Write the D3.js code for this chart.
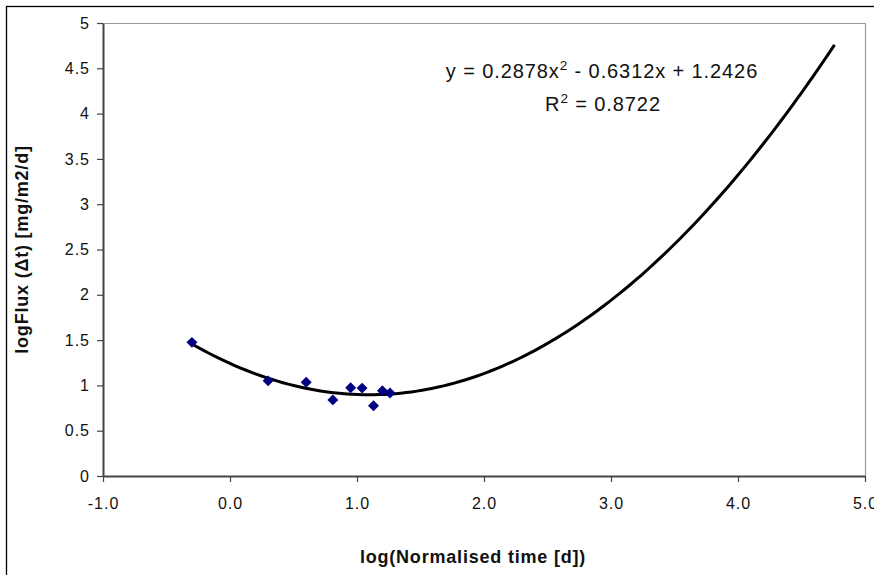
<!DOCTYPE html>
<html>
<head>
<meta charset="utf-8">
<script src="https://cdn.jsdelivr.net/npm/d3@7"></script>
<style>
  html, body { margin: 0; padding: 0; background: #fff; }
  svg { display: block; font-family: "Liberation Sans", Arial, sans-serif; }
</style>
</head>
<body>
<svg id="chart" width="874" height="575"></svg>
<script>
// ---- data ----
const pointX = [-0.30, 0.30, 0.60, 0.81, 0.95, 1.04, 1.13, 1.20, 1.26];
const pointY = [1.475, 1.05, 1.035, 0.84, 0.975, 0.97, 0.775, 0.94, 0.915];
// trendline coefficients as printed on the chart: y = a x^2 + b x + c
const trendCoef = [0.2878, -0.6312, 1.2426];
const trendRange = [-0.30, 4.76];
const xTicks = [-1, 0, 1, 2, 3, 4, 5];
const yTicks = [0, 0.5, 1, 1.5, 2, 2.5, 3, 3.5, 4, 4.5, 5];
const xTitle = "log(Normalised time [d])";
const yTitle = "logFlux (\u0394t) [mg/m2/d]";
const eqLine1 = ["y = 0.2878x", "2", " - 0.6312x + 1.2426"];
const eqLine2 = ["R", "2", " = 0.8722"];

// ---- layout ----
const svg = d3.select("#chart");
const L = 103, R = 865, T = 23, B = 476;
const x = d3.scaleLinear().domain([-1, 5]).range([L, R]);
const y = d3.scaleLinear().domain([0, 5]).range([B, T]);

// outer chart frame
svg.append("rect").attr("x", 6.5).attr("y", 6.5).attr("width", 1000).attr("height", 1000)
  .attr("fill", "none").attr("stroke", "#000").attr("stroke-width", 1.3);

// plot area border (top/right gray)
svg.append("path")
  .attr("d", `M${L},${T + 0.5}H${R + 0.5}V${B}`)
  .attr("fill", "none").attr("stroke", "#999").attr("stroke-width", 1.2);

// axes
const xAxis = d3.axisBottom(x).tickValues(xTicks).tickSize(6).tickSizeOuter(0)
  .tickFormat(d => d.toFixed(1).replace("\u2212", "-"));
const gx = svg.append("g").attr("transform", `translate(0,${B})`).call(xAxis);
gx.select(".domain").attr("stroke", "#444").attr("stroke-width", 2);
gx.selectAll(".tick line").attr("stroke", "#444").attr("stroke-width", 1.2);
gx.selectAll(".tick text").attr("font-size", 16).attr("fill", "#111")
  .attr("letter-spacing", 1)
  .attr("font-family", "Liberation Sans, Arial, sans-serif").attr("dy", "1.5em");

const yAxis = d3.axisLeft(y).tickValues(yTicks).tickSize(6).tickSizeOuter(0)
  .tickFormat(d => String(d));
const gy = svg.append("g").attr("transform", `translate(${L},0)`).call(yAxis);
gy.select(".domain").attr("stroke", "#444").attr("stroke-width", 2);
gy.selectAll(".tick line").attr("stroke", "#444").attr("stroke-width", 1.2);
gy.selectAll(".tick text").attr("font-size", 16).attr("fill", "#111")
  .attr("letter-spacing", 1)
  .attr("font-family", "Liberation Sans, Arial, sans-serif").attr("x", -13);

// trend line
const nSamp = 120;
const trendX = d3.range(nSamp + 1).map(i => trendRange[0] + (trendRange[1] - trendRange[0]) * i / nSamp);
const trendPts = trendX.map(v => [v, trendCoef[0] * v * v + trendCoef[1] * v + trendCoef[2]]);
svg.append("path")
  .datum(trendPts)
  .attr("d", d3.line().x(d => x(d[0])).y(d => y(d[1])))
  .attr("fill", "none").attr("stroke", "#000").attr("stroke-width", 3);

// points (diamonds)
const pts = pointX.map((v, i) => [v, pointY[i]]);
svg.append("g").selectAll("path").data(pts).join("path")
  .attr("d", d3.symbol(d3.symbolSquare, 60)())
  .attr("transform", d => `translate(${x(d[0])},${y(d[1])}) rotate(45)`)
  .attr("fill", "#000080");

// equation text
function eq(parts, cx, base) {
  const t = svg.append("text").attr("x", cx).attr("y", base)
    .attr("text-anchor", "middle").attr("font-size", 20).attr("fill", "#111")
    .attr("letter-spacing", 0.9);
  t.append("tspan").text(parts[0]);
  t.append("tspan").attr("dy", -8).attr("font-size", 13.5).text(parts[1]);
  t.append("tspan").attr("dy", 8).text(parts[2]);
}
eq(eqLine1, 602, 78);
eq(eqLine2, 603, 111);

// axis titles
svg.append("text").attr("x", 473).attr("y", 563).attr("text-anchor", "middle")
  .attr("font-size", 18).attr("font-weight", "bold").attr("fill", "#111")
  .attr("letter-spacing", 0.8).text(xTitle);
svg.append("text").attr("transform", `translate(28,${(T + B) / 2}) rotate(-90)`)
  .attr("text-anchor", "middle").attr("font-size", 18).attr("font-weight", "bold")
  .attr("letter-spacing", 0.8)
  .attr("fill", "#111").text(yTitle);
</script>
</body>
</html>
